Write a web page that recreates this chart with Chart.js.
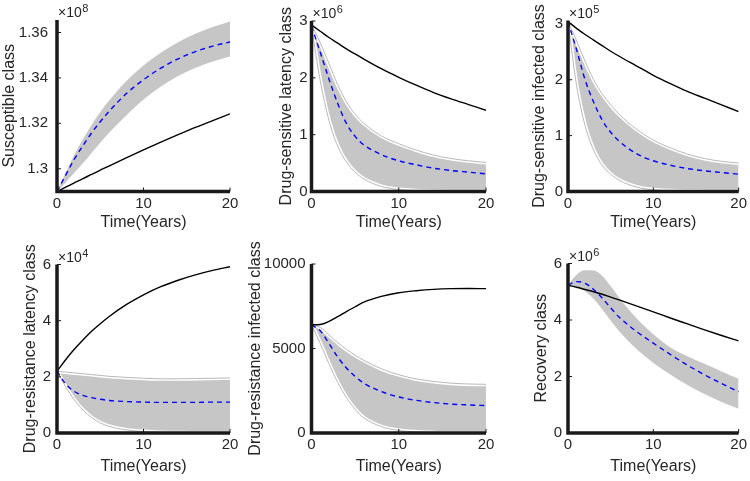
<!DOCTYPE html>
<html><head><meta charset="utf-8">
<script src="https://cdn.jsdelivr.net/npm/chart.js@4.4.1/dist/chart.umd.min.js"></script>
<style>
html,body{margin:0;padding:0;background:#fff;}
#wrap{position:relative;width:750px;height:481px;overflow:hidden;background:#fff;}
#wrap canvas{position:absolute;left:0;top:0;}
</style></head><body><div id="wrap"></div>
<script>
// ---- data (time in years) ----
const times = [0,1,2,3,4,5,6,8,10,12,14,16,18,20];
const xTicks = [0,10,20];

// Susceptible class (x1e8)
const s_det  = [1.2900,1.2919,1.2938,1.2957,1.2975,1.2994,1.3012,1.3048,1.3083,1.3117,1.3150,1.3182,1.3212,1.3242];
const s_mean = [1.2900,1.2972,1.3042,1.3102,1.3158,1.3207,1.3252,1.3330,1.3392,1.3443,1.3484,1.3516,1.3540,1.3558];
const s_hi   = [1.2900,1.2983,1.3062,1.3130,1.3193,1.3250,1.3299,1.3385,1.3455,1.3511,1.3557,1.3594,1.3624,1.3648];
const s_lo   = [1.2900,1.2940,1.2982,1.3025,1.3070,1.3115,1.3158,1.3235,1.3305,1.3362,1.3408,1.3444,1.3472,1.3494];
const s_yTicks = [1.3,1.32,1.34,1.36];
const s_yLabels = ['1.3','1.32','1.34','1.36'];

// Drug-sensitive latency class (x1e6)
const dsl_det  = [2.93,2.82,2.71,2.61,2.51,2.42,2.33,2.16,2.01,1.87,1.74,1.63,1.53,1.43];
const dsl_mean = [2.91,2.45,1.98,1.55,1.20,0.97,0.82,0.65,0.54,0.47,0.41,0.37,0.34,0.31];
const dsl_hi   = [2.93,2.62,2.25,1.88,1.58,1.36,1.20,0.98,0.84,0.73,0.64,0.58,0.54,0.51];
const dsl_lo   = [2.90,1.95,1.25,0.80,0.52,0.34,0.22,0.09,0.035,0.015,0.006,0.002,0.001,0];
const dsl_yTicks = [0,1,2,3];
const dsl_yLabels = ['0','1','2','3'];

// Drug-sensitive infected class (x1e5)
const dsi_det  = [3.04,2.92,2.81,2.71,2.61,2.51,2.42,2.25,2.08,1.93,1.79,1.67,1.55,1.43];
const dsi_mean = [3.04,2.54,2.00,1.60,1.28,1.06,0.90,0.68,0.55,0.47,0.41,0.37,0.34,0.31];
const dsi_hi   = [3.04,2.70,2.33,2.00,1.75,1.55,1.38,1.12,0.92,0.78,0.67,0.59,0.54,0.51];
const dsi_lo   = [3.04,1.90,1.18,0.74,0.47,0.31,0.20,0.08,0.03,0.012,0.005,0.002,0,0];
const dsi_yTicks = [0,1,2,3];
const dsi_yLabels = ['0','1','2','3'];

// Drug-resistance latency class (x1e4)
const drl_det  = [2.20,2.61,2.98,3.31,3.62,3.89,4.14,4.57,4.92,5.21,5.44,5.63,5.79,5.92];
const drl_mean = [2.20,1.75,1.48,1.34,1.26,1.20,1.16,1.12,1.10,1.09,1.09,1.09,1.10,1.10];
const drl_hi   = [2.20,2.17,2.14,2.11,2.08,2.05,2.02,1.98,1.95,1.93,1.93,1.94,1.95,1.96];
const drl_lo   = [2.20,1.65,1.18,0.82,0.55,0.36,0.24,0.11,0.05,0.02,0.01,0,0,0];
const drl_yTicks = [0,2,4,6];
const drl_yLabels = ['0','2','4','6'];

// Drug-resistance infected class
const dri_det  = [6400,6420,6600,6880,7180,7470,7740,8080,8300,8420,8500,8540,8550,8540];
const dri_mean = [6400,6050,5300,4500,3850,3350,2950,2450,2130,1930,1800,1710,1660,1620];
const dri_hi   = [6400,6250,5800,5350,4950,4600,4300,3800,3450,3200,3050,2950,2900,2880];
const dri_lo   = [6400,5300,4100,3000,2100,1400,900,380,150,60,20,0,0,0];
const dri_yTicks = [0,5000,10000];
const dri_yLabels = ['0','5000','10000'];

// Recovery class (x1e6)
const r_det  = [5.23,5.16,5.08,5.00,4.91,4.81,4.71,4.50,4.29,4.07,3.86,3.65,3.45,3.26];
const r_mean = [5.23,5.36,5.30,5.08,4.78,4.43,4.10,3.60,3.18,2.78,2.40,2.06,1.75,1.46];
const r_hi   = [5.23,5.60,5.76,5.75,5.57,5.20,4.79,4.07,3.50,3.03,2.72,2.45,2.18,1.92];
const r_lo   = [5.23,5.18,5.02,4.75,4.38,3.98,3.60,2.98,2.48,2.07,1.70,1.38,1.10,0.86];
const r_yTicks = [0,2,4,6];
const r_yLabels = ['0','2','4','6'];

// ---- panels ----
const panels = [
  {title:'Susceptible class', det:s_det, mean:s_mean, hi:s_hi, lo:s_lo, yTicks:s_yTicks, yLabels:s_yLabels, yMin:1.29, yMax:1.3655, exp:'8', halo:false},
  {title:'Drug-sensitive latency class', det:dsl_det, mean:dsl_mean, hi:dsl_hi, lo:dsl_lo, yTicks:dsl_yTicks, yLabels:dsl_yLabels, yMin:0, yMax:3, exp:'6', halo:true},
  {title:'Drug-sensitive infected class', det:dsi_det, mean:dsi_mean, hi:dsi_hi, lo:dsi_lo, yTicks:dsi_yTicks, yLabels:dsi_yLabels, yMin:0, yMax:3.06, exp:'5', halo:true},
  {title:'Drug-resistance latency class', det:drl_det, mean:drl_mean, hi:drl_hi, lo:drl_lo, yTicks:drl_yTicks, yLabels:drl_yLabels, yMin:0, yMax:6, exp:'4', halo:true},
  {title:'Drug-resistance infected class', det:dri_det, mean:dri_mean, hi:dri_hi, lo:dri_lo, yTicks:dri_yTicks, yLabels:dri_yLabels, yMin:0, yMax:10000, exp:null, halo:true},
  {title:'Recovery class', det:r_det, mean:r_mean, hi:r_hi, lo:r_lo, yTicks:r_yTicks, yLabels:r_yLabels, yMin:0, yMax:6, exp:'6', halo:false}
];
// layout: [left, top, right, bottom] of plot area, distance of y title centre from axis, tick label gap, x title pad
const layoutBoxes = [
  {area:[57,20,230,191.5], titleDist:47, tickPad:9, xTitlePad:4},
  {area:[311.5,21,486,191.5], titleDist:24.5, tickPad:4, xTitlePad:4},
  {area:[568,20.5,741,191.5], titleDist:28, tickPad:5, xTitlePad:4},
  {area:[57,264.5,230,433], titleDist:26.7, tickPad:6, xTitlePad:2},
  {area:[311.5,264,486,433], titleDist:55.7, tickPad:6, xTitlePad:2},
  {area:[568,263.5,741,433], titleDist:26.6, tickPad:6, xTitlePad:2}
];

const FONT = "'Liberation Sans', Arial, sans-serif";
const TXT = '#262626';
const BAND = '#c6c6c6';
const EDGE = '#b8b8b8';

const axesPlugin = {
  id: 'matAxes',
  afterDatasetsDraw(chart, args, opts) {
    const ctx = chart.ctx, a = chart.chartArea;
    const xs = chart.scales.x, ys = chart.scales.y;
    ctx.save();
    ctx.strokeStyle = '#1a1a1a';
    ctx.lineWidth = 1;
    ys.ticks.forEach(t => {
      const y = ys.getPixelForValue(t.value);
      ctx.beginPath(); ctx.moveTo(a.left, y); ctx.lineTo(a.left + 4, y); ctx.stroke();
    });
    xs.ticks.forEach(t => {
      const x = xs.getPixelForValue(t.value);
      ctx.beginPath(); ctx.moveTo(x, a.bottom); ctx.lineTo(x, a.bottom - 4); ctx.stroke();
    });
    ctx.lineWidth = 3.5;
    ctx.lineCap = 'butt';
    ctx.beginPath();
    ctx.moveTo(a.left, a.top);
    ctx.lineTo(a.left, a.bottom);
    ctx.lineTo(a.right, a.bottom);
    ctx.stroke();
    if (opts.exp) {
      ctx.fillStyle = TXT;
      ctx.textBaseline = 'alphabetic';
      ctx.textAlign = 'left';
      ctx.font = '14px ' + FONT;
      const x0 = a.left + 1, y0 = a.top - 3;
      ctx.fillText('\u00d710', x0, y0);
      const w = ctx.measureText('\u00d710').width;
      ctx.font = '11px ' + FONT;
      ctx.fillText(opts.exp, x0 + w + 0.5, y0 - 5);
    }
    ctx.restore();
  }
};

const wrap = document.getElementById('wrap');
panels.forEach((p, i) => {
  const box = layoutBoxes[i];
  const [L, T, R, B] = box.area;
  const yW = box.titleDist + 9.6;
  const xH = 45;
  const c = document.createElement('canvas');
  c.width = 750; c.height = 481;
  c.style.width = '750px'; c.style.height = '481px';
  wrap.appendChild(c);
  const pts = arr => arr.map((v, k) => ({x: times[k], y: v}));
  const line = (arr, color, w, extra) => Object.assign({
    data: pts(arr), borderColor: color, borderWidth: w, pointRadius: 0,
    fill: false, cubicInterpolationMode: 'monotone'
  }, extra || {});
  const ds = [
    line(p.det, '#000000', 1.4),
    line(p.mean, '#0000ff', 1.4, {borderDash: [5, 4]})
  ];
  if (p.halo) {
    ds.push(line(p.hi, EDGE, 1));
    ds.push(line(p.lo, EDGE, 1));
    ds.push(line(p.hi, '#ffffff', 4));
    ds.push(line(p.lo, '#ffffff', 4));
  }
  ds.push(line(p.hi, 'rgba(0,0,0,0)', 0, {fill: '+1', backgroundColor: BAND}));
  ds.push(line(p.lo, 'rgba(0,0,0,0)', 0));

  new Chart(c, {
    type: 'line',
    data: {datasets: ds},
    plugins: [axesPlugin],
    options: {
      responsive: false, animation: false, devicePixelRatio: 1,
      layout: {padding: {left: L - yW, top: T, right: 750 - R, bottom: 481 - B - xH}},
      plugins: {legend: {display: false}, tooltip: {enabled: false}, matAxes: {exp: p.exp}},
      events: [],
      scales: {
        x: {
          type: 'linear', min: 0, max: 20,
          afterBuildTicks: s => { s.ticks = xTicks.map(v => ({value: v})); },
          ticks: {font: {family: FONT, size: 15}, color: TXT, padding: 3, maxRotation: 0, autoSkip: false,
                  callback: v => String(v)},
          grid: {display: false, drawTicks: false, tickLength: 0}, border: {display: false},
          title: {display: true, text: 'Time(Years)', font: {family: FONT, size: 16}, color: TXT,
                  padding: {top: 0, bottom: box.xTitlePad}},
          afterFit: s => { s.height = xH; }
        },
        y: {
          type: 'linear', min: p.yMin, max: p.yMax,
          afterBuildTicks: s => { s.ticks = p.yTicks.map(v => ({value: v})); },
          ticks: {font: {family: FONT, size: 15}, color: TXT, padding: box.tickPad, autoSkip: false,
                  callback: (v, idx) => p.yLabels[idx]},
          grid: {display: false, drawTicks: false, tickLength: 0}, border: {display: false},
          title: {display: true, text: p.title, font: {family: FONT, size: 16}, color: TXT, padding: 0},
          afterFit: s => { s.width = yW; }
        }
      }
    }
  });
});
</script>
</body></html>
